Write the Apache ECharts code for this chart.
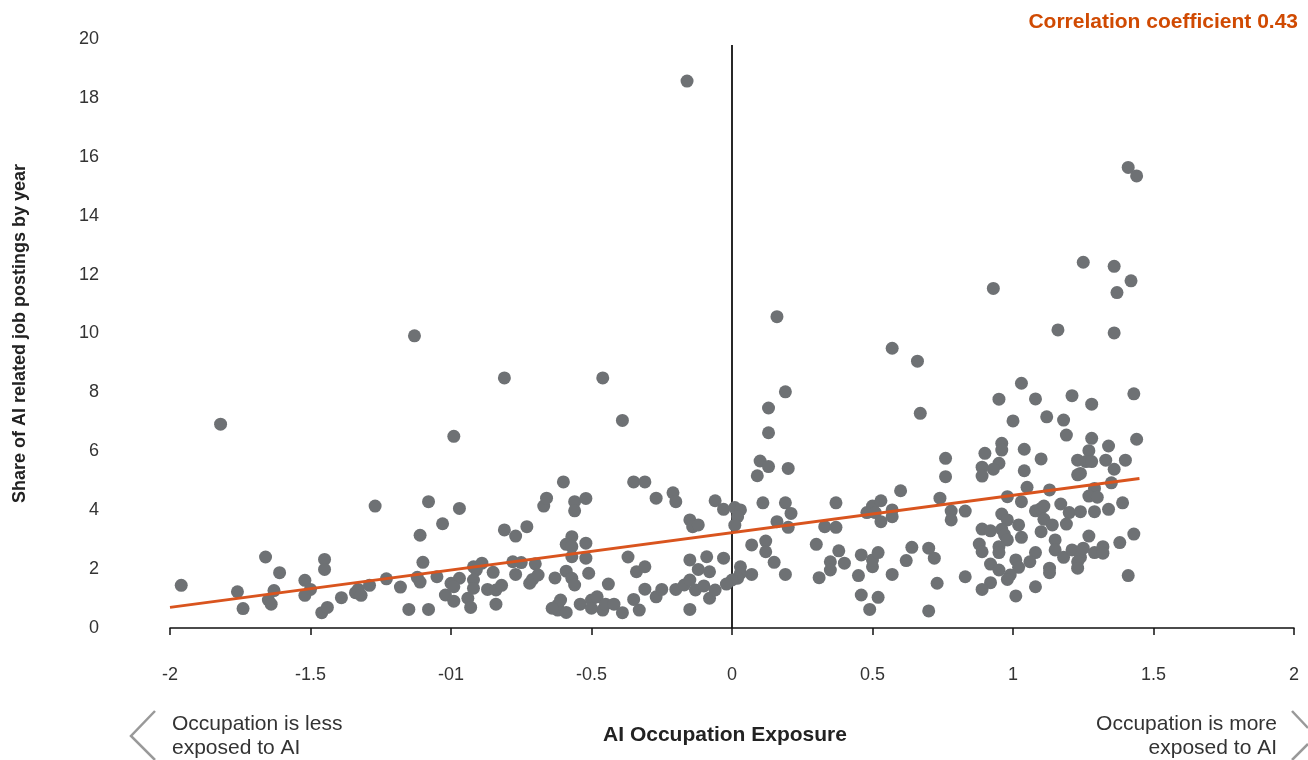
<!DOCTYPE html>
<html>
<head>
<meta charset="utf-8">
<script src="https://cdn.jsdelivr.net/npm/echarts@6/dist/echarts.min.js"></script>
<style>
html,body{margin:0;padding:0;background:#fff;}
#chart{width:1308px;height:760px;}
</style>
</head>
<body>
<div id="chart"></div>
<script>
// AI occupation exposure (x) vs share of AI related job postings by year (y)
const exposure = [
-1.96,-1.82,-1.76,-1.74,-1.66,-1.65,-1.64,-1.63,-1.61,-1.52,-1.50,-1.52,-1.45,-1.45,-1.46,-1.44,-1.39,-1.34,-1.33,-1.32,
-1.29,-1.27,-1.23,-1.18,-1.15,-1.13,-1.12,-1.11,-1.11,-1.10,-1.08,-1.08,-1.05,-1.03,-1.02,-1.00,-0.99,-0.99,-0.97,-0.97,
-0.99,-0.81,-0.46,-0.39,-0.94,-0.93,-0.92,-0.91,-0.89,-0.92,-0.92,-0.87,-0.85,-0.84,-0.84,-0.82,-0.81,-0.77,-0.73,-0.78,
-0.75,-0.77,-0.70,-0.72,-0.71,-0.69,-0.67,-0.66,-0.60,-0.56,-0.56,-0.52,-0.57,-0.59,-0.57,-0.57,-0.52,-0.52,-0.51,-0.63,
-0.59,-0.57,-0.56,-0.62,-0.62,-0.61,-0.59,-0.64,-0.54,-0.50,-0.48,-0.46,-0.45,-0.42,-0.39,-0.50,-0.44,-0.37,-0.34,-0.31,
-0.35,-0.31,-0.27,-0.21,-0.20,-0.31,-0.35,-0.33,-0.27,-0.25,-0.20,-0.17,-0.15,-0.15,-0.13,-0.10,-0.08,-0.06,-0.15,-0.14,
-0.12,-0.15,-0.12,-0.09,-0.08,-0.16,-0.06,-0.03,0.01,0.03,0.02,0.01,-0.03,0.03,0.03,0.02,0.00,-0.02,
0.19,0.13,0.13,0.10,0.13,0.20,0.09,0.11,0.19,0.21,0.16,0.20,0.07,0.12,0.12,0.15,0.07,0.19,
0.30,0.33,0.37,0.37,0.38,0.35,0.35,0.31,0.40,0.45,0.46,0.46,0.49,0.52,0.50,0.50,0.52,0.48,0.50,0.53,
0.51,0.53,0.57,0.57,0.60,0.57,0.62,0.64,0.67,0.70,0.72,0.73,0.70,0.76,0.76,0.74,0.78,0.78,0.83,0.83,
0.16,0.57,0.66,
1.03,0.95,1.08,1.21,1.28,1.43,1.00,1.12,1.18,1.19,1.28,1.44,0.96,0.96,0.90,1.04,1.10,0.95,0.93,0.89,
0.89,1.04,1.23,1.27,1.26,1.28,1.34,1.33,1.36,1.40,1.23,1.24,1.35,1.29,1.27,1.30,1.05,1.13,0.98,1.03,
1.17,1.08,1.10,1.11,1.20,1.24,1.29,1.34,1.39,0.96,0.98,0.89,0.92,0.96,1.02,1.11,1.14,1.19,1.10,0.97,
0.98,1.03,1.15,1.27,1.43,0.88,0.89,0.95,0.95,1.08,1.15,1.18,1.21,1.24,1.23,1.25,1.29,1.32,1.32,1.38,
0.92,0.95,1.01,1.02,1.06,1.13,1.13,1.23,0.99,0.98,0.92,0.89,1.01,1.08,1.41,
1.41,1.44,1.25,1.36,1.42,1.37,0.93,1.16,1.36
];
const sharePostings = [
1.45,6.92,1.23,0.66,2.41,0.95,0.81,1.27,1.88,1.62,1.31,1.11,2.33,1.99,0.52,0.70,1.03,1.20,1.31,1.11,
1.45,4.14,1.67,1.39,0.63,9.92,1.72,3.15,1.56,2.23,4.29,0.63,1.74,3.54,1.12,1.52,6.51,0.91,4.06,1.69,
1.40,8.49,8.49,7.05,1.01,0.70,2.08,1.97,2.20,1.63,1.35,1.31,1.89,0.81,1.29,1.45,3.33,3.12,3.44,2.25,
2.22,1.82,2.18,1.52,1.65,1.80,4.14,4.41,4.96,4.29,3.98,4.40,3.10,2.84,2.76,2.42,2.88,2.37,1.86,1.70,
1.93,1.69,1.46,0.78,0.61,0.95,0.53,0.67,0.81,0.95,1.06,0.61,0.81,0.81,0.52,0.67,1.49,2.41,1.91,2.08,
4.96,4.96,4.41,4.59,4.29,1.32,0.97,0.61,1.06,1.31,1.31,1.46,1.63,0.63,1.29,1.43,1.01,1.29,3.67,3.44,
3.50,2.31,1.99,2.42,1.91,18.57,4.32,4.03,4.09,4.01,3.78,3.49,2.37,2.08,1.86,1.69,1.63,1.49,
8.02,7.47,6.63,5.67,5.48,5.42,5.17,4.25,4.25,3.89,3.61,3.42,2.82,2.95,2.59,2.23,1.82,1.82,
2.84,3.44,4.25,3.42,2.62,2.25,1.97,1.71,2.20,1.78,2.48,1.12,0.63,1.04,2.08,2.31,2.56,3.92,4.14,4.32,
3.92,3.61,4.01,3.78,4.66,1.82,2.29,2.74,7.29,2.71,2.37,1.52,0.58,5.76,5.14,4.41,3.97,3.67,3.97,1.74,
10.57,9.50,9.06,
8.31,7.77,7.78,7.89,7.60,7.95,7.03,7.17,7.06,6.55,6.44,6.41,6.27,6.04,5.93,6.07,5.74,5.59,5.39,5.46,
5.16,5.34,5.70,6.02,5.65,5.65,6.18,5.70,5.39,5.70,5.20,5.25,4.93,4.74,4.48,4.44,4.78,4.69,4.46,4.29,
4.21,3.98,4.06,4.14,3.92,3.95,3.95,4.03,4.25,3.87,3.67,3.36,3.30,3.35,3.50,3.69,3.50,3.53,3.27,3.16,
2.99,3.08,2.99,3.12,3.19,2.85,2.59,2.76,2.56,2.56,2.65,2.40,2.65,2.40,2.25,2.71,2.56,2.76,2.54,2.90,
2.17,1.97,2.31,2.06,2.25,2.03,1.88,2.03,1.80,1.65,1.54,1.31,1.09,1.40,1.78,
15.64,15.35,12.42,12.28,11.79,11.39,11.53,10.12,10.02
];
// fitted trend line end points (x, y)
const trendX = [-2.0, 1.45];
const trendY = [0.70, 5.08];
// x tick labels as printed in the source
const xTickLabels = ['-2','-1.5','-01','-0.5','0','0.5','1','1.5','2'];
const xTickValues = [-2,-1.5,-1,-0.5,0,0.5,1,1.5,2];
const yTickLabels = ['0','2','4','6','8','10','12','14','16','18','20'];

const points = exposure.map((x, i) => [x, sharePostings[i]]);
const trend = trendX.map((x, i) => [x, trendY[i]]);

const chart = echarts.init(document.getElementById('chart'));
const FONT = 'Liberation Sans, Arial, Helvetica, sans-serif';
chart.setOption({
  animation: false,
  backgroundColor: '#ffffff',
  textStyle: { fontFamily: FONT },
  grid: { left: 170, right: 14, top: 39, bottom: 132, containLabel: false, outerBoundsMode: 'none' },
  xAxis: {
    type: 'value', min: -2, max: 2, interval: 0.5,
    axisLine: { show: true, onZero: false, lineStyle: { color: '#111', width: 1.5 } },
    axisTick: { show: true, length: 7, lineStyle: { color: '#111', width: 1.5 } },
    splitLine: { show: false },
    axisLabel: {
      margin: 38, color: '#333', fontSize: 18, fontFamily: FONT,
      formatter: v => { const i = xTickValues.findIndex(t => Math.abs(t - v) < 1e-9); return i >= 0 ? xTickLabels[i] : ''; }
    },
    name: 'AI Occupation Exposure', nameLocation: 'middle', nameGap: 97,
    nameTextStyle: { fontSize: 21, fontWeight: 'bold', color: '#222', fontFamily: FONT, padding: [0, 14, 0, 0] }
  },
  yAxis: {
    type: 'value', min: 0, max: 20, interval: 2,
    axisLine: { show: false }, axisTick: { show: false }, splitLine: { show: false },
    axisLabel: {
      margin: 71, color: '#333', fontSize: 18, fontFamily: FONT,
      formatter: v => yTickLabels[Math.round(v / 2)] ?? ''
    },
    name: 'Share of AI related job postings by year', nameLocation: 'middle', nameGap: 141, nameRotate: 90,
    nameTextStyle: { fontSize: 18, fontWeight: 'bold', color: '#222', fontFamily: FONT }
  },
  series: [
    {
      type: 'line', data: [[0, 0], [0, 19.8]], symbol: 'none', silent: true, z: 1,
      lineStyle: { color: '#111', width: 1.8 }
    },
    {
      type: 'scatter', data: points, symbol: 'circle', symbolSize: 13, z: 2,
      itemStyle: { color: '#6e7174', opacity: 1 }
    },
    {
      type: 'line', data: trend, symbol: 'none', silent: true, z: 3,
      lineStyle: { color: '#d9541e', width: 3 }
    }
  ],
  graphic: [
    { type: 'text', x: 1298, y: 12, style: { text: 'Correlation coefficient 0.43', fill: '#d04a02', fontSize: 21, fontWeight: 'bold', align: 'right', fontFamily: FONT } },
    { type: 'text', x: 172, y: 712, style: { text: 'Occupation is less\nexposed to AI', fill: '#333', fontSize: 21, lineHeight: 24, align: 'left', fontFamily: FONT } },
    { type: 'text', x: 1277, y: 712, style: { text: 'Occupation is more\nexposed to AI', fill: '#333', fontSize: 21, lineHeight: 24, align: 'right', fontFamily: FONT } },
    { type: 'polyline', shape: { points: [[155, 711], [131, 736], [155, 760]] }, style: { stroke: '#999', lineWidth: 2.5, fill: null } },
    { type: 'polyline', shape: { points: [[1292, 711], [1308, 728]] }, style: { stroke: '#999', lineWidth: 2.5, fill: null } },
    { type: 'polyline', shape: { points: [[1308, 744], [1292, 760]] }, style: { stroke: '#999', lineWidth: 2.5, fill: null } }
  ]
});
</script>
</body>
</html>
